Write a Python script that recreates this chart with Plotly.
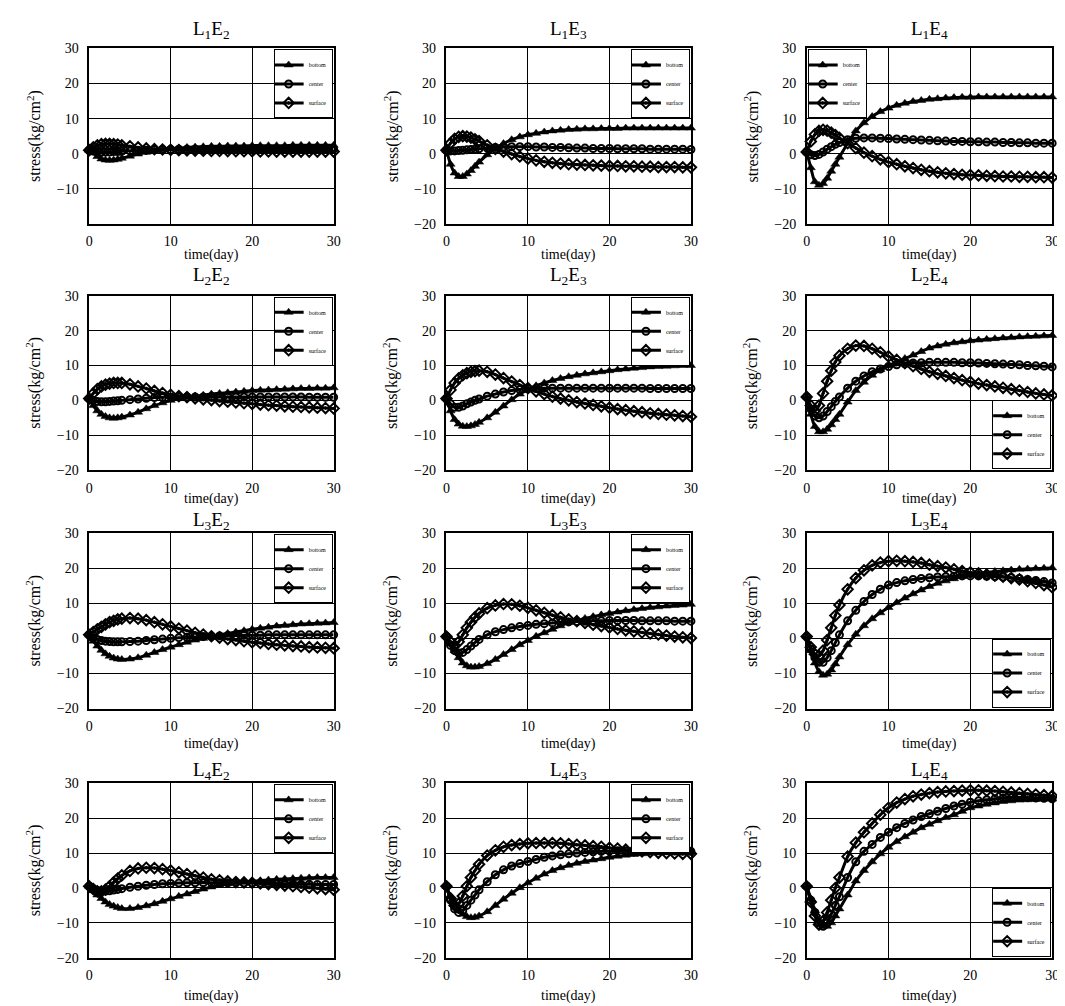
import plotly.graph_objects as go

# ---------------- data ----------------
T = [0, 0.5, 1, 1.5, 2, 2.5, 3, 3.5, 4,
     5, 6, 7, 8, 9, 10, 11, 12, 13, 14,
     15, 16, 17, 18, 19, 20, 21, 22, 23, 24,
     25, 26, 27, 28, 29, 30]
X_TICKS = [0, 10, 20, 30]
Y_TICKS = [-20, -10, 0, 10, 20, 30]
SERIES_NAMES = ["bottom", "center", "surface"]

L1E2_bottom = [1, 0.2, -0.8, -1.5, -1.8, -1.9, -1.8, -1.6, -1.3, -0.7, -0.1, 0.4, 0.8, 1.1, 1.4, 1.6, 1.8, 1.9, 2.0, 2.1, 2.1, 2.2, 2.2, 2.2, 2.3, 2.3, 2.3, 2.3, 2.3, 2.4, 2.4, 2.4, 2.4, 2.4, 2.4]
L1E2_center = [1, 0.8, 0.6, 0.5, 0.5, 0.5, 0.6, 0.6, 0.7, 0.8, 0.9, 1.0, 1.1, 1.2, 1.2, 1.3, 1.3, 1.3, 1.3, 1.3, 1.3, 1.3, 1.3, 1.3, 1.3, 1.3, 1.3, 1.3, 1.3, 1.3, 1.3, 1.3, 1.3, 1.3, 1.3]
L1E2_surface = [1, 1.8, 2.4, 2.7, 2.8, 2.8, 2.7, 2.6, 2.4, 2.1, 1.8, 1.5, 1.3, 1.2, 1.1, 1.0, 0.95, 0.9, 0.85, 0.8, 0.8, 0.75, 0.7, 0.7, 0.7, 0.65, 0.65, 0.6, 0.6, 0.6, 0.6, 0.6, 0.6, 0.6, 0.6]

L1E3_bottom = [1, -3.0, -5.5, -6.5, -6.5, -5.8, -4.8, -3.6, -2.4, -0.3, 1.5, 2.9, 4.0, 4.8, 5.4, 5.8, 6.2, 6.5, 6.7, 6.9, 7.0, 7.1, 7.1, 7.2, 7.2, 7.2, 7.3, 7.3, 7.3, 7.3, 7.3, 7.3, 7.3, 7.3, 7.3]
L1E3_center = [1, 0.8, 0.8, 0.9, 1.0, 1.1, 1.2, 1.3, 1.4, 1.6, 1.8, 1.9, 2.0, 2.0, 2.0, 1.9, 1.9, 1.8, 1.8, 1.7, 1.6, 1.6, 1.5, 1.5, 1.5, 1.4, 1.4, 1.4, 1.4, 1.3, 1.3, 1.3, 1.3, 1.3, 1.2]
L1E3_surface = [1, 3.0, 4.2, 4.8, 5.0, 4.9, 4.6, 4.1, 3.6, 2.4, 1.4, 0.6, -0.1, -0.8, -1.4, -1.9, -2.3, -2.6, -2.8, -3.0, -3.1, -3.2, -3.3, -3.4, -3.5, -3.5, -3.6, -3.6, -3.7, -3.7, -3.8, -3.8, -3.8, -3.9, -3.9]

L1E4_bottom = [0.5, -4.0, -8.0, -9.0, -8.5, -7.0, -5.0, -3.0, -1.0, 3.0, 6.5, 8.8, 10.6, 12.0, 13.0, 13.8, 14.4, 14.9, 15.2, 15.5, 15.7, 15.9, 16.0, 16.1, 16.1, 16.2, 16.2, 16.2, 16.2, 16.2, 16.2, 16.2, 16.2, 16.2, 16.2]
L1E4_center = [0.5, -0.3, -0.5, -0.2, 0.5, 1.3, 2.0, 2.7, 3.2, 4.0, 4.4, 4.5, 4.5, 4.4, 4.3, 4.2, 4.1, 4.0, 3.9, 3.8, 3.7, 3.6, 3.5, 3.5, 3.4, 3.4, 3.3, 3.3, 3.2, 3.2, 3.1, 3.1, 3.0, 3.0, 3.0]
L1E4_surface = [0.5, 3.5, 5.5, 6.5, 6.8, 6.6, 6.0, 5.3, 4.5, 3.0, 1.6, 0.3, -0.7, -1.6, -2.4, -3.0, -3.6, -4.1, -4.6, -5.0, -5.3, -5.6, -5.8, -6.0, -6.1, -6.2, -6.3, -6.4, -6.5, -6.5, -6.6, -6.6, -6.7, -6.7, -6.8]

L2E2_bottom = [0.5, -1.5, -3.0, -4.0, -4.6, -5.0, -5.1, -5.0, -4.8, -4.2, -3.4, -2.4, -1.5, -0.7, 0.0, 0.5, 0.9, 1.2, 1.5, 1.8, 2.0, 2.2, 2.4, 2.6, 2.8, 2.9, 3.0, 3.1, 3.2, 3.3, 3.4, 3.4, 3.5, 3.5, 3.6]
L2E2_center = [0.5, 0.0, -0.3, -0.4, -0.4, -0.3, -0.2, -0.1, 0.0, 0.2, 0.4, 0.6, 0.8, 0.9, 1.0, 1.0, 1.0, 1.0, 1.0, 1.0, 1.0, 1.0, 1.0, 1.0, 1.0, 1.0, 1.0, 1.0, 1.0, 1.0, 1.0, 0.9, 0.9, 0.9, 0.9]
L2E2_surface = [0.5, 2.0, 3.2, 4.0, 4.5, 4.8, 5.0, 5.0, 5.0, 4.6, 4.0, 3.4, 2.7, 2.1, 1.6, 1.2, 0.9, 0.6, 0.3, 0.1, -0.2, -0.4, -0.6, -0.8, -1.0, -1.2, -1.4, -1.5, -1.7, -1.8, -1.9, -2.0, -2.1, -2.2, -2.3]

L2E3_bottom = [0.5, -3.0, -5.5, -6.8, -7.4, -7.5, -7.3, -6.9, -6.3, -5.0, -3.4, -1.6, 0.2, 1.8, 3.1, 4.2, 5.0, 5.7, 6.3, 6.8, 7.2, 7.6, 7.9, 8.2, 8.5, 8.8, 9.0, 9.2, 9.4, 9.6, 9.7, 9.8, 9.9, 10.0, 10.0]
L2E3_center = [0.5, -1.0, -2.0, -2.0, -1.6, -1.0, -0.5, 0.0, 0.4, 1.2, 1.8, 2.4, 2.8, 3.1, 3.3, 3.4, 3.5, 3.5, 3.5, 3.5, 3.5, 3.5, 3.5, 3.5, 3.5, 3.5, 3.5, 3.5, 3.5, 3.4, 3.4, 3.4, 3.4, 3.4, 3.4]
L2E3_surface = [0.5, 3.0, 5.0, 6.3, 7.2, 7.8, 8.2, 8.4, 8.5, 8.2, 7.4, 6.4, 5.4, 4.4, 3.5, 2.6, 1.8, 1.1, 0.5, 0.0, -0.5, -0.9, -1.3, -1.7, -2.1, -2.5, -2.8, -3.1, -3.4, -3.7, -3.9, -4.1, -4.3, -4.5, -4.7]

L2E4_bottom = [1.0, -4.0, -7.5, -9.0, -9.0, -8.3, -7.0, -5.5, -4.0, -0.5, 2.8, 5.2, 7.2, 8.8, 10.0, 11.0, 12.0, 13.0, 14.0, 15.0, 15.6, 16.1, 16.5, 16.8, 17.1, 17.3, 17.5, 17.7, 17.9, 18.0, 18.2, 18.3, 18.4, 18.5, 18.6]
L2E4_center = [1.0, -2.5, -4.5, -5.0, -4.5, -3.2, -1.8, -0.3, 1.0, 3.5, 5.5, 7.0, 8.2, 9.0, 9.7, 10.2, 10.5, 10.7, 10.8, 10.9, 10.9, 10.9, 10.9, 10.8, 10.8, 10.7, 10.6, 10.5, 10.4, 10.3, 10.2, 10.0, 9.9, 9.8, 9.6]
L2E4_surface = [1.0, -1.5, -3.0, -1.5, 2.0, 5.5, 8.5, 11.0, 12.8, 14.8, 15.7, 15.6, 14.8, 13.8, 12.6, 11.6, 10.7, 9.8, 9.0, 8.2, 7.6, 7.0, 6.4, 5.8, 5.3, 4.8, 4.4, 4.0, 3.6, 3.2, 2.8, 2.4, 2.0, 1.7, 1.4]

L3E2_bottom = [1.0, -0.8, -2.2, -3.4, -4.4, -5.1, -5.6, -5.9, -6.0, -5.9, -5.5, -4.8, -4.0, -3.2, -2.5, -1.8, -1.1, -0.5, 0.0, 0.5, 1.0, 1.4, 1.8, 2.2, 2.6, 2.9, 3.2, 3.5, 3.7, 3.9, 4.1, 4.2, 4.3, 4.4, 4.5]
L3E2_center = [1.0, 0.2, -0.3, -0.6, -0.8, -0.9, -1.0, -1.0, -1.0, -0.9, -0.8, -0.6, -0.4, -0.2, 0.0, 0.2, 0.3, 0.4, 0.5, 0.6, 0.7, 0.8, 0.8, 0.9, 0.9, 0.9, 1.0, 1.0, 1.0, 1.0, 1.0, 1.0, 1.0, 1.0, 1.0]
L3E2_surface = [1.0, 1.8, 2.6, 3.3, 4.0, 4.6, 5.0, 5.4, 5.6, 5.8, 5.6, 5.2, 4.6, 4.0, 3.4, 2.8, 2.2, 1.6, 1.1, 0.6, 0.2, -0.2, -0.5, -0.8, -1.1, -1.3, -1.6, -1.8, -2.0, -2.2, -2.3, -2.5, -2.6, -2.7, -2.8]

L3E3_bottom = [0.5, -1.5, -3.5, -5.5, -7.0, -7.8, -8.2, -8.2, -8.0, -7.2, -6.0, -4.6, -3.2, -1.8, -0.6, 0.6, 1.6, 2.6, 3.6, 4.5, 5.1, 5.7, 6.2, 6.7, 7.1, 7.5, 7.9, 8.2, 8.5, 8.8, 9.0, 9.2, 9.4, 9.5, 9.7]
L3E3_center = [0.5, -2.0, -3.5, -4.2, -4.0, -3.2, -2.2, -1.2, -0.3, 1.0, 1.9, 2.5, 3.0, 3.4, 3.7, 4.0, 4.2, 4.4, 4.6, 4.7, 4.8, 4.9, 5.0, 5.0, 5.1, 5.1, 5.1, 5.1, 5.0, 5.0, 5.0, 5.0, 4.9, 4.9, 4.9]
L3E3_surface = [0.5, -1.0, -2.0, -1.0, 1.0, 3.0, 4.6, 6.0, 7.1, 8.6, 9.4, 9.8, 9.7, 9.3, 8.7, 8.0, 7.3, 6.6, 6.0, 5.4, 4.9, 4.4, 3.9, 3.5, 3.1, 2.7, 2.3, 2.0, 1.7, 1.4, 1.1, 0.8, 0.5, 0.3, 0.1]

L3E4_bottom = [0.5, -3.5, -7.0, -9.5, -10.5, -10.2, -9.0, -7.3, -5.3, -1.8, 1.2, 3.6, 5.6, 7.3, 8.8, 10.2, 11.5, 12.7, 13.8, 14.8, 15.7, 16.4, 17.0, 17.6, 18.1, 18.5, 18.8, 19.1, 19.3, 19.5, 19.7, 19.8, 19.9, 20.0, 20.1]
L3E4_center = [0.5, -3.0, -5.5, -6.8, -6.8, -5.5, -3.5, -1.2, 1.0, 5.0, 8.0, 10.5, 12.5, 14.0, 15.2, 15.9, 16.4, 16.8, 17.1, 17.3, 17.5, 17.6, 17.7, 17.8, 17.8, 17.8, 17.7, 17.6, 17.5, 17.3, 17.1, 16.8, 16.5, 16.2, 15.8]
L3E4_surface = [0.5, -2.5, -4.5, -5.0, -3.5, -0.5, 3.0, 6.5, 9.5, 14.0, 17.2, 19.4, 20.8, 21.6, 22.0, 22.1, 22.0, 21.8, 21.5, 21.0, 20.6, 20.2, 19.7, 19.2, 18.8, 18.5, 18.2, 17.9, 17.6, 17.2, 16.8, 16.3, 15.8, 15.2, 14.6]

L4E2_bottom = [0.5, -0.8, -2.0, -3.0, -4.0, -4.7, -5.2, -5.6, -5.9, -5.9, -5.6, -5.1, -4.5, -3.8, -3.1, -2.4, -1.7, -1.0, -0.3, 0.3, 0.8, 1.2, 1.5, 1.7, 1.9, 2.1, 2.3, 2.5, 2.6, 2.7, 2.8, 2.9, 3.0, 3.0, 3.0]
L4E2_center = [0.5, -0.2, -0.7, -0.9, -0.9, -0.8, -0.6, -0.4, -0.2, 0.2, 0.5, 0.8, 1.0, 1.2, 1.3, 1.4, 1.5, 1.5, 1.5, 1.5, 1.5, 1.5, 1.5, 1.4, 1.4, 1.4, 1.3, 1.3, 1.2, 1.2, 1.1, 1.1, 1.0, 1.0, 1.0]
L4E2_surface = [0.5, -0.3, -1.0, -1.0, -0.5, 0.5, 1.6, 2.7, 3.6, 4.9, 5.6, 5.8, 5.7, 5.4, 5.0, 4.5, 4.0, 3.5, 3.0, 2.5, 2.2, 1.9, 1.7, 1.6, 1.5, 1.3, 1.1, 0.9, 0.7, 0.5, 0.3, 0.1, -0.1, -0.3, -0.5]

L4E3_bottom = [0.5, -2.5, -4.5, -6.3, -7.5, -8.2, -8.5, -8.4, -8.0, -6.8, -5.0, -3.2, -1.5, 0.1, 1.5, 2.8, 4.0, 5.0, 5.8, 6.5, 7.1, 7.6, 8.0, 8.4, 8.8, 9.1, 9.4, 9.6, 9.8, 10.0, 10.1, 10.2, 10.3, 10.3, 10.4]
L4E3_center = [0.5, -3.5, -6.0, -7.0, -6.5, -5.0, -3.5, -2.0, -0.5, 1.8, 3.8, 5.2, 6.3, 7.0, 7.6, 8.2, 8.8, 9.2, 9.5, 9.8, 10.0, 10.2, 10.4, 10.5, 10.6, 10.7, 10.7, 10.8, 10.8, 10.8, 10.7, 10.7, 10.6, 10.6, 10.5]
L4E3_surface = [0.5, -3.0, -5.0, -4.5, -2.3, 0.5, 3.0, 5.0, 6.8, 9.3, 10.8, 11.8, 12.3, 12.6, 12.8, 12.9, 12.9, 12.9, 12.8, 12.6, 12.4, 12.2, 12.0, 11.8, 11.5, 11.3, 11.0, 10.8, 10.5, 10.3, 10.1, 10.0, 9.9, 9.8, 9.8]

L4E4_bottom = [0.5, -3.0, -6.5, -9.5, -11.0, -11.0, -10.0, -8.0, -6.0, -2.0, 2.0, 5.0, 7.5, 9.8, 11.7, 13.3, 14.7, 16.0, 17.3, 18.3, 19.3, 20.2, 21.0, 22.0, 23.0, 23.5, 24.0, 24.4, 24.8, 25.0, 25.2, 25.3, 25.4, 25.5, 25.5]
L4E4_center = [0.5, -3.5, -7.0, -10.0, -11.0, -10.0, -7.5, -5.0, -2.5, 3.0, 7.5, 10.5, 12.5, 14.5, 16.0, 17.3, 18.5, 19.5, 20.5, 21.3, 22.0, 22.8, 23.5, 24.0, 24.6, 25.0, 25.3, 25.6, 25.8, 25.9, 26.0, 25.9, 25.8, 25.7, 25.6]
L4E4_surface = [0.5, -4.0, -8.0, -10.5, -9.5, -7.0, -3.5, 0.0, 3.0, 9.0, 13.0, 16.0, 18.5, 21.0, 23.0, 24.5, 25.5, 26.3, 26.8, 27.2, 27.5, 27.7, 27.8, 27.9, 28.0, 28.0, 27.9, 27.8, 27.6, 27.4, 27.2, 27.0, 26.8, 26.6, 26.4]

PANELS = [
    ("1", "2", [L1E2_bottom, L1E2_center, L1E2_surface], "tr"),
    ("1", "3", [L1E3_bottom, L1E3_center, L1E3_surface], "tr"),
    ("1", "4", [L1E4_bottom, L1E4_center, L1E4_surface], "tl"),
    ("2", "2", [L2E2_bottom, L2E2_center, L2E2_surface], "tr"),
    ("2", "3", [L2E3_bottom, L2E3_center, L2E3_surface], "tr"),
    ("2", "4", [L2E4_bottom, L2E4_center, L2E4_surface], "br"),
    ("3", "2", [L3E2_bottom, L3E2_center, L3E2_surface], "tr"),
    ("3", "3", [L3E3_bottom, L3E3_center, L3E3_surface], "tr"),
    ("3", "4", [L3E4_bottom, L3E4_center, L3E4_surface], "br"),
    ("4", "2", [L4E2_bottom, L4E2_center, L4E2_surface], "tr"),
    ("4", "3", [L4E3_bottom, L4E3_center, L4E3_surface], "tr"),
    ("4", "4", [L4E4_bottom, L4E4_center, L4E4_surface], "br"),
]
for _, _, ser, _ in PANELS:
    for s in ser:
        assert len(s) == len(T), len(s)

# ---------------- layout ----------------
W, H = 1065, 1006
COLS_PX = [(78, 325), (439, 686), (803, 1051)]
ROWS_PX = [(34, 212), (285, 462), (526, 704), (780, 957)]
TITLE_GAP = [19, 20, 12, 13]
XTITLE_GAP = [32, 29, 36, 39]
SERIF = "Liberation Serif, Times New Roman, serif"

MARKERS = [
    dict(symbol="triangle-up", size=8, color="black", line=dict(color="black", width=0.5)),
    dict(symbol="circle-open", size=7, color="black", line=dict(color="black", width=2)),
    dict(symbol="diamond-open-dot", size=8, color="black", line=dict(color="black", width=2)),
]

def px_x(p):
    return p / W

def px_y(p):
    return 1 - p / H

fig = go.Figure()
layout = dict(width=W, height=H, margin=dict(l=0, r=0, t=0, b=0),
              paper_bgcolor="white", plot_bgcolor="white",
              font=dict(family=SERIF, color="black"))
annotations = []

for i, (l, e, ser, corner) in enumerate(PANELS):
    r, c = divmod(i, 3)
    n = i + 1
    sfx = "" if n == 1 else str(n)
    x0, x1 = COLS_PX[c]
    y0, y1 = ROWS_PX[r]
    legname = "legend" + sfx
    for k in range(3):
        fig.add_trace(go.Scatter(
            x=T, y=ser[k], name=SERIES_NAMES[k], mode="lines+markers",
            line=dict(color="black", width=3, shape="spline", smoothing=0.8),
            marker=MARKERS[k], cliponaxis=False,
            xaxis="x" + sfx, yaxis="y" + sfx, legend=legname))
    yt = Y_TICKS if i != 0 else Y_TICKS[1:]
    layout["xaxis" + sfx] = dict(
        domain=[px_x(x0), px_x(x1)], anchor="y" + sfx, range=[0, 30],
        tickvals=X_TICKS, ticks="", showline=True, mirror=True,
        linecolor="black", linewidth=1.5, showgrid=True, gridcolor="black",
        gridwidth=1, zeroline=False, tickfont=dict(size=14, family=SERIF),
        ticklabelstandoff=4)
    layout["yaxis" + sfx] = dict(
        domain=[px_y(y1), px_y(y0)], anchor="x" + sfx, range=[-20, 30],
        tickvals=yt, ticks="", showline=True, mirror=True,
        linecolor="black", linewidth=1.5, showgrid=True, gridcolor="black",
        gridwidth=1, zeroline=False, tickfont=dict(size=14, family=SERIF),
        ticklabelstandoff=6)
    # legend placement
    if corner == "tr":
        lx, ly, xa, ya = x1 - 1, y0 + 1, "right", "top"
    elif corner == "tl":
        lx, ly, xa, ya = x0 + 1, y0 + 1, "left", "top"
    else:
        lx, ly, xa, ya = x1 - 1, y1 - 1, "right", "bottom"
    layout[legname] = dict(
        x=px_x(lx), y=px_y(ly), xanchor=xa, yanchor=ya, xref="paper", yref="paper",
        bgcolor="white", bordercolor="black", borderwidth=1,
        font=dict(size=6, family=SERIF), itemwidth=30, tracegroupgap=0,
        itemsizing="trace", indentation=-6)
    cx = (x0 + x1) / 2
    annotations.append(dict(text=f"L<sub>{l}</sub>E<sub>{e}</sub>", x=px_x(cx), y=px_y(y0 - TITLE_GAP[r]),
                            xref="paper", yref="paper", showarrow=False,
                            font=dict(size=19, family=SERIF), xanchor="center", yanchor="middle"))
    annotations.append(dict(text="time(day)", x=px_x(cx), y=px_y(y1 + XTITLE_GAP[r]),
                            xref="paper", yref="paper", showarrow=False,
                            font=dict(size=14, family=SERIF), xanchor="center", yanchor="middle"))
    annotations.append(dict(text="stress(kg/cm<sup>2</sup>)", x=px_x(x0 - 56), y=px_y((y0 + y1) / 2),
                            xref="paper", yref="paper", showarrow=False, textangle=-90,
                            font=dict(size=16, family=SERIF), xanchor="center", yanchor="middle"))

layout["annotations"] = annotations
fig.update_layout(**layout)
fig.write_html("out.html")
